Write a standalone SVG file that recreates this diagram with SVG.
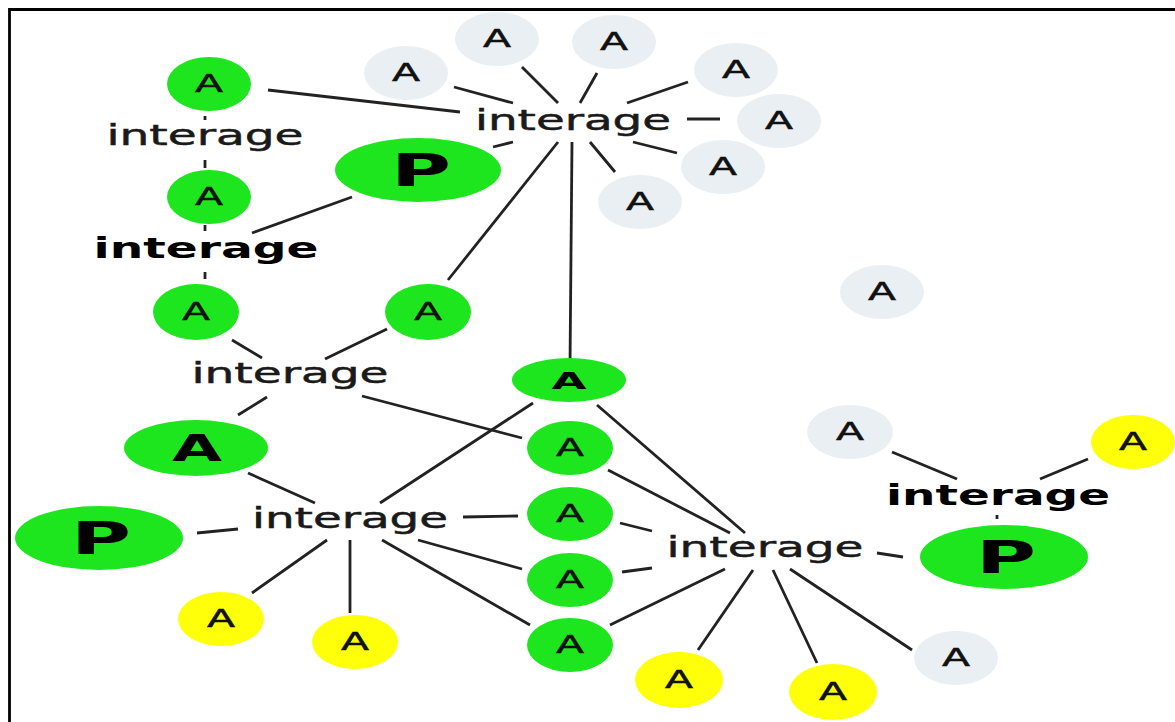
<svg xmlns="http://www.w3.org/2000/svg" width="1175" height="722" viewBox="0 0 1175 722">
<style>
.g{fill:#1ee61e}
.y{fill:#ffff0a}
.w{fill:#e9eff2}
.a{font-family:"DejaVu Sans",Verdana,sans-serif;font-size:24px;fill:#111;stroke:#111;stroke-width:0.5;text-anchor:middle}
.ab{font-family:"DejaVu Sans",Verdana,sans-serif;font-weight:bold;fill:#000;text-anchor:middle}
.t{font-family:"DejaVu Sans",Verdana,sans-serif;font-size:29px;fill:#1a1a1a;stroke:#1a1a1a;stroke-width:0.5;text-anchor:middle}
.tb{font-family:"DejaVu Sans",Verdana,sans-serif;font-size:29px;font-weight:bold;fill:#000;text-anchor:middle}
#edges line{stroke:#222;stroke-width:2.8;stroke-linecap:butt}
</style>
<rect width="1175" height="722" fill="#fff"/>
<path d="M9.5,722 V9.5 H1175" fill="none" stroke="#000" stroke-width="2.8"/>
<g id="edges">
<line x1="268" y1="90" x2="460" y2="112"/>
<line x1="454" y1="87" x2="513" y2="103"/>
<line x1="522" y1="67" x2="558" y2="103"/>
<line x1="597" y1="73" x2="580" y2="103"/>
<line x1="688" y1="82" x2="627" y2="103"/>
<line x1="687" y1="119" x2="720" y2="119"/>
<line x1="633" y1="142" x2="677" y2="153"/>
<line x1="590" y1="142" x2="615" y2="172"/>
<line x1="513" y1="142" x2="493" y2="147"/>
<line x1="558" y1="142" x2="448" y2="280"/>
<line x1="572" y1="142" x2="570" y2="366"/>
<line x1="205" y1="116" x2="205" y2="120"/>
<line x1="205" y1="160" x2="205" y2="168"/>
<line x1="205" y1="225" x2="205" y2="231"/>
<line x1="205" y1="272" x2="205" y2="279"/>
<line x1="352" y1="197" x2="252" y2="233"/>
<line x1="232" y1="340" x2="262" y2="358"/>
<line x1="387" y1="329" x2="325" y2="359"/>
<line x1="267" y1="397" x2="238" y2="415"/>
<line x1="362" y1="396" x2="522" y2="438"/>
<line x1="248" y1="473" x2="315" y2="503"/>
<line x1="380" y1="503" x2="533" y2="403"/>
<line x1="197" y1="533" x2="238" y2="529"/>
<line x1="463" y1="517" x2="518" y2="516"/>
<line x1="418" y1="540" x2="522" y2="569"/>
<line x1="382" y1="540" x2="530" y2="625"/>
<line x1="327" y1="540" x2="252" y2="593"/>
<line x1="350" y1="540" x2="350" y2="613"/>
<line x1="597" y1="405" x2="745" y2="533"/>
<line x1="608" y1="470" x2="730" y2="533"/>
<line x1="620" y1="523" x2="652" y2="531"/>
<line x1="622" y1="572" x2="652" y2="568"/>
<line x1="610" y1="625" x2="725" y2="569"/>
<line x1="698" y1="650" x2="753" y2="570"/>
<line x1="817" y1="663" x2="773" y2="570"/>
<line x1="790" y1="569" x2="912" y2="650"/>
<line x1="877" y1="553" x2="903" y2="557"/>
<line x1="892" y1="452" x2="957" y2="479"/>
<line x1="1088" y1="459" x2="1040" y2="479"/>
<line x1="997" y1="515" x2="997" y2="519"/>
</g>
<g id="hub1"><text class="t" x="573" y="130" textLength="196" lengthAdjust="spacingAndGlyphs">interage</text></g>
<g id="hub2"><text class="t" x="205" y="145" textLength="197" lengthAdjust="spacingAndGlyphs">interage</text></g>
<g id="hub3"><text class="tb" x="206" y="258" textLength="225" lengthAdjust="spacingAndGlyphs">interage</text></g>
<g id="hub4"><text class="t" x="290" y="383" textLength="197" lengthAdjust="spacingAndGlyphs">interage</text></g>
<g id="hub5"><text class="t" x="350" y="528" textLength="196" lengthAdjust="spacingAndGlyphs">interage</text></g>
<g id="hub6"><text class="t" x="765" y="557" textLength="197" lengthAdjust="spacingAndGlyphs">interage</text></g>
<g id="hub7"><text class="tb" x="998" y="505" textLength="224" lengthAdjust="spacingAndGlyphs">interage</text></g>

<g id="w1"><ellipse class="w" cx="406" cy="73" rx="42" ry="27"/><text class="a" x="406" y="81" textLength="28" lengthAdjust="spacingAndGlyphs">A</text></g>
<g id="w2"><ellipse class="w" cx="497" cy="39" rx="42" ry="27"/><text class="a" x="497" y="47" textLength="28" lengthAdjust="spacingAndGlyphs">A</text></g>
<g id="w3"><ellipse class="w" cx="614" cy="42" rx="42" ry="27"/><text class="a" x="614" y="50" textLength="28" lengthAdjust="spacingAndGlyphs">A</text></g>
<g id="w4"><ellipse class="w" cx="736" cy="70" rx="42" ry="27"/><text class="a" x="736" y="78" textLength="28" lengthAdjust="spacingAndGlyphs">A</text></g>
<g id="w5"><ellipse class="w" cx="779" cy="121" rx="42" ry="27"/><text class="a" x="779" y="129" textLength="28" lengthAdjust="spacingAndGlyphs">A</text></g>
<g id="w6"><ellipse class="w" cx="723" cy="167" rx="42" ry="27"/><text class="a" x="723" y="175" textLength="28" lengthAdjust="spacingAndGlyphs">A</text></g>
<g id="w7"><ellipse class="w" cx="640" cy="202" rx="42" ry="27"/><text class="a" x="640" y="210" textLength="28" lengthAdjust="spacingAndGlyphs">A</text></g>
<g id="w8"><ellipse class="w" cx="882" cy="292" rx="42" ry="27"/><text class="a" x="882" y="300" textLength="28" lengthAdjust="spacingAndGlyphs">A</text></g>
<g id="w9"><ellipse class="w" cx="850" cy="432" rx="43" ry="27"/><text class="a" x="850" y="440" textLength="28" lengthAdjust="spacingAndGlyphs">A</text></g>
<g id="w10"><ellipse class="w" cx="956" cy="658" rx="42" ry="27"/><text class="a" x="956" y="666" textLength="28" lengthAdjust="spacingAndGlyphs">A</text></g>

<g id="g1"><ellipse class="g" cx="209" cy="84" rx="42" ry="27"/><text class="a" x="209" y="92" textLength="28" lengthAdjust="spacingAndGlyphs">A</text></g>
<g id="g2"><ellipse class="g" cx="209" cy="197" rx="42" ry="27"/><text class="a" x="209" y="205" textLength="28" lengthAdjust="spacingAndGlyphs">A</text></g>
<g id="g3"><ellipse class="g" cx="196" cy="312" rx="43" ry="28"/><text class="a" x="196" y="320" textLength="28" lengthAdjust="spacingAndGlyphs">A</text></g>
<g id="g4"><ellipse class="g" cx="428" cy="312" rx="43" ry="28"/><text class="a" x="428" y="320" textLength="28" lengthAdjust="spacingAndGlyphs">A</text></g>
<g id="p1"><ellipse class="g" cx="418" cy="170" rx="83" ry="32"/><text class="ab" x="421" y="186" font-size="45" textLength="60" lengthAdjust="spacingAndGlyphs">P</text></g>
<g id="g5"><ellipse class="g" cx="569" cy="380" rx="57" ry="22"/><text class="ab" x="569" y="389" font-size="23" textLength="35" lengthAdjust="spacingAndGlyphs">A</text></g>
<g id="g6"><ellipse class="g" cx="196" cy="448" rx="72" ry="28"/><text class="ab" x="197" y="461" font-size="37" textLength="50" lengthAdjust="spacingAndGlyphs">A</text></g>
<g id="g7"><ellipse class="g" cx="570" cy="448" rx="43" ry="27"/><text class="a" x="570" y="456" textLength="28" lengthAdjust="spacingAndGlyphs">A</text></g>
<g id="g8"><ellipse class="g" cx="570" cy="514" rx="43" ry="27"/><text class="a" x="570" y="522" textLength="28" lengthAdjust="spacingAndGlyphs">A</text></g>
<g id="g9"><ellipse class="g" cx="570" cy="580" rx="43" ry="27"/><text class="a" x="570" y="588" textLength="28" lengthAdjust="spacingAndGlyphs">A</text></g>
<g id="g10"><ellipse class="g" cx="570" cy="645" rx="43" ry="27"/><text class="a" x="570" y="653" textLength="28" lengthAdjust="spacingAndGlyphs">A</text></g>
<g id="p2"><ellipse class="g" cx="99" cy="538" rx="84" ry="32"/><text class="ab" x="101" y="554" font-size="45" textLength="60" lengthAdjust="spacingAndGlyphs">P</text></g>
<g id="p3"><ellipse class="g" cx="1004" cy="557" rx="84" ry="32"/><text class="ab" x="1006" y="573" font-size="45" textLength="60" lengthAdjust="spacingAndGlyphs">P</text></g>

<g id="y1"><ellipse class="y" cx="221" cy="619" rx="43" ry="27"/><text class="a" x="221" y="627" textLength="28" lengthAdjust="spacingAndGlyphs">A</text></g>
<g id="y2"><ellipse class="y" cx="355" cy="642" rx="43" ry="27"/><text class="a" x="355" y="650" textLength="28" lengthAdjust="spacingAndGlyphs">A</text></g>
<g id="y3"><ellipse class="y" cx="679" cy="680" rx="44" ry="28"/><text class="a" x="679" y="688" textLength="28" lengthAdjust="spacingAndGlyphs">A</text></g>
<g id="y4"><ellipse class="y" cx="833" cy="692" rx="44" ry="28"/><text class="a" x="833" y="700" textLength="28" lengthAdjust="spacingAndGlyphs">A</text></g>
<g id="y5"><ellipse class="y" cx="1133" cy="442" rx="42" ry="27"/><text class="a" x="1133" y="450" textLength="28" lengthAdjust="spacingAndGlyphs">A</text></g>
</svg>
